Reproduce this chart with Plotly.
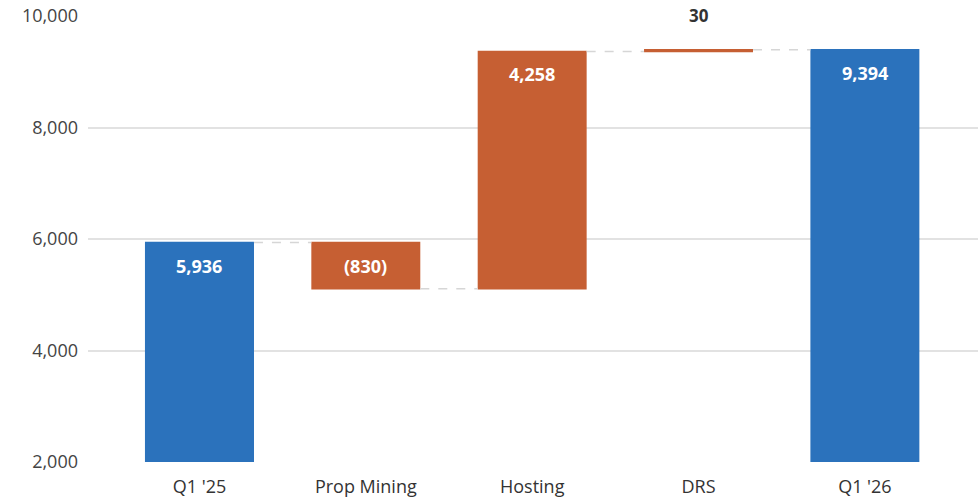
import plotly.graph_objects as go

categories = ["Q1 '25", "Prop Mining", "Hosting", "DRS", "Q1 '26"]
values = [5936, -830, 4258, 30, 9394]
measures = ["absolute", "relative", "relative", "relative", "total"]
labels = ["5,936", "(830)", "4,258", "30", "9,394"]
y_ticks = [2000, 4000, 6000, 8000, 10000]
y_tick_labels = ["2,000", "4,000", "6,000", "8,000", "10,000"]

BLUE = "#2B72BC"
ORANGE = "#C65F33"
FONT = "'Open Sans', Lato, sans-serif"

fig = go.Figure()
fig.add_trace(go.Waterfall(
    x=categories,
    y=values,
    measure=measures,
    width=0.655,
    increasing=dict(marker=dict(color=ORANGE)),
    decreasing=dict(marker=dict(color=ORANGE)),
    totals=dict(marker=dict(color=BLUE)),
    connector=dict(mode="between", line=dict(color="#d6d6d6", width=1.5, dash="dash")),
    textposition="none",
    showlegend=False,
    hoverinfo="x+y",
))
# the opening absolute bar is drawn blue like the closing total
fig.add_trace(go.Bar(
    x=[categories[0]], y=[values[0]], width=0.655,
    marker=dict(color=BLUE, line=dict(width=0)), showlegend=False, hoverinfo="skip",
))

running = 0
for cat, v, m, lab in zip(categories, values, measures, labels):
    if m == "absolute":
        start, running = 0, v
    elif m == "relative":
        start, running = running, running + v
    else:
        start = 0
    top = max(start, running)
    if cat == "DRS":
        fig.add_annotation(x=cat, y=top, text=lab, showarrow=False, yshift=34,
                           font=dict(family=FONT, size=17, color="#333333", weight="bold"),
                           bgcolor="white", borderpad=2)
    else:
        fig.add_annotation(x=cat, y=top, text=lab, showarrow=False, yshift=-23,
                           font=dict(family=FONT, size=18, color="white", weight="bold"))

fig.update_layout(
    width=978, height=500,
    margin=dict(l=88, r=0, t=16, b=38),
    paper_bgcolor="white", plot_bgcolor="white",
    barmode="overlay",
    font=dict(family=FONT, size=18, color="#333333"),
    xaxis=dict(range=[-0.67, 4.68], showgrid=False, showline=False, ticks="",
               ticklen=0, ticklabelstandoff=12,
               tickfont=dict(size=18, color="#333333"), fixedrange=True),
    yaxis=dict(range=[2000, 10000], tickvals=y_ticks, ticktext=y_tick_labels,
               showgrid=True, gridcolor="#e2e2e2", gridwidth=2, zeroline=False,
               showline=False, ticks="", ticklen=0, ticklabelstandoff=9,
               tickfont=dict(size=18, color="#444444")),
)

fig.write_html("out.html")
